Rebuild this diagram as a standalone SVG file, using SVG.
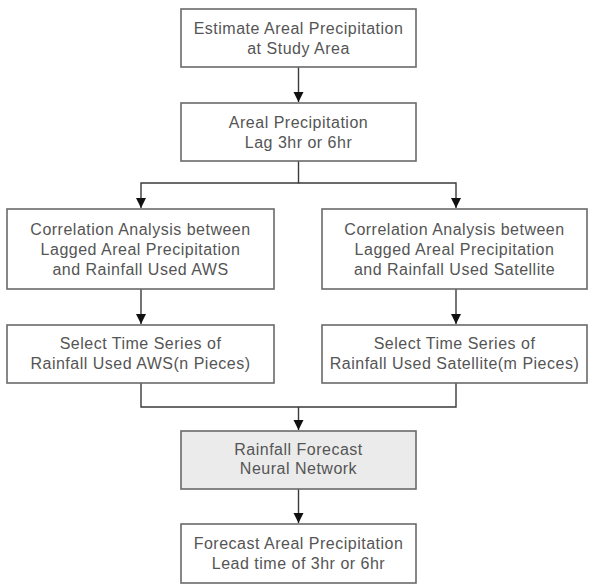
<svg xmlns="http://www.w3.org/2000/svg" width="589" height="585" viewBox="0 0 589 585">
<style>
.box{fill:#fff;stroke:#6a6a6a;stroke-width:1.6}
.grey{fill:#ebebeb}
.t{font-family:"Liberation Sans",Arial,sans-serif;font-size:16px;letter-spacing:0.5px;fill:#555;text-anchor:middle}
.c{fill:none;stroke:#3a3a3a;stroke-width:1.4}
</style>
<defs>
<marker id="ah" markerUnits="userSpaceOnUse" markerWidth="10" markerHeight="12" refX="10" refY="5" orient="auto" viewBox="0 0 10 10">
<path d="M0,0 L10,5 L0,10 z" fill="#111"/>
</marker>
</defs>
<g id="connectors">
<path class="c" d="M298.5,67 V102" marker-end="url(#ah)"/>
<path class="c" d="M298.5,161 V183 H141 V208" marker-end="url(#ah)"/>
<path class="c" d="M298.5,183 H456 V208" marker-end="url(#ah)"/>
<path class="c" d="M141,289 V324" marker-end="url(#ah)"/>
<path class="c" d="M456,289 V324" marker-end="url(#ah)"/>
<path class="c" d="M141,383 V407 H456 V383"/>
<path class="c" d="M298.5,407 V430" marker-end="url(#ah)"/>
<path class="c" d="M298.5,489 V523" marker-end="url(#ah)"/>
</g>
<g id="n1"><rect class="box" x="181" y="9" width="235" height="58"/>
<text class="t" x="298.5" y="34">Estimate Areal Precipitation</text><text class="t" x="298.5" y="54">at Study Area</text></g>
<g id="n2"><rect class="box" x="181" y="103" width="235" height="58"/>
<text class="t" x="298.5" y="128">Areal Precipitation</text><text class="t" x="298.5" y="148">Lag 3hr or 6hr</text></g>
<g id="n3"><rect class="box" x="7" y="209" width="267" height="80"/>
<text class="t" x="140.5" y="235">Correlation Analysis between</text><text class="t" x="140.5" y="255">Lagged Areal Precipitation</text><text class="t" x="140.5" y="275">and Rainfall Used AWS</text></g>
<g id="n4"><rect class="box" x="322" y="209" width="265" height="80"/>
<text class="t" x="454.5" y="235">Correlation Analysis between</text><text class="t" x="454.5" y="255">Lagged Areal Precipitation</text><text class="t" x="454.5" y="275">and Rainfall Used Satellite</text></g>
<g id="n5"><rect class="box" x="7" y="325" width="267" height="58"/>
<text class="t" x="140.5" y="349">Select Time Series of</text><text class="t" x="140.5" y="369">Rainfall Used AWS(n Pieces)</text></g>
<g id="n6"><rect class="box" x="322" y="325" width="265" height="58"/>
<text class="t" x="454.5" y="349">Select Time Series of</text><text class="t" x="454.5" y="369">Rainfall Used Satellite(m Pieces)</text></g>
<g id="n7"><rect class="box grey" x="181" y="431" width="235" height="58"/>
<text class="t" x="298.5" y="455">Rainfall Forecast</text><text class="t" x="298.5" y="474">Neural Network</text></g>
<g id="n8"><rect class="box" x="181" y="524" width="235" height="59"/>
<text class="t" x="298.5" y="549">Forecast Areal Precipitation</text><text class="t" x="298.5" y="569">Lead time of 3hr or 6hr</text></g>
</svg>
